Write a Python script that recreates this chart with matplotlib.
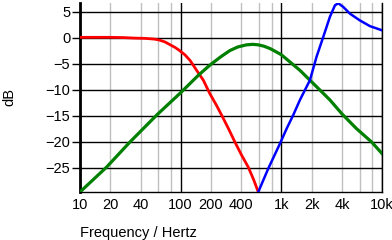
import matplotlib
matplotlib.use("Agg")
import matplotlib.pyplot as plt
from matplotlib.ticker import FixedLocator, NullFormatter

plt.rcParams['font.family'] = ['Liberation Sans', 'DejaVu Sans']

# lowpass (red)
freq_lp = [10, 20, 27, 35, 44, 55, 62, 70, 78, 88, 96, 110, 124, 144, 168,
           195, 225, 255, 300, 346, 400, 469, 530, 590]
db_lp = [0.05, 0.05, 0.0, -0.1, -0.15, -0.3, -0.5, -0.85, -1.35, -1.9, -2.4,
         -3.3, -4.4, -6.3, -8.2, -10.8, -12.9, -14.9, -17.6, -20.1, -22.5,
         -24.9, -27.3, -29.7]

# bandpass (green)
freq_bp = [10, 18.4, 31.3, 57.8, 100, 149, 195, 250, 308, 370, 450, 520,
           590, 670, 770, 880, 1000, 1220, 1530, 1923, 2420, 3040, 3970,
           5500, 7900, 10000]
db_bp = [-29.7, -24.9, -20.1, -14.9, -10.6, -7.3, -5.3, -3.7, -2.5, -1.8,
         -1.4, -1.3, -1.4, -1.65, -2.1, -2.7, -3.3, -4.7, -6.3, -8.2, -10.1,
         -12.0, -14.6, -17.4, -20.1, -22.3]

# highpass (blue)
freq_hp = [590, 741, 953, 1130, 1313, 1530, 1923, 2237, 2606, 3040, 3407,
           3676, 4120, 4800, 6030, 7590, 10000]
db_hp = [-29.7, -25.2, -20.7, -17.5, -14.9, -12.0, -8.2, -3.7, 0.1, 4.0,
         6.2, 6.6, 5.9, 4.6, 3.3, 2.2, 1.4]

x_major = [10, 100, 1000, 10000]
x_minor = [20, 40, 60, 80, 200, 400, 600, 800, 2000, 4000, 6000, 8000]
x_ticks = [10, 20, 40, 100, 200, 400, 1000, 2000, 4000, 10000]
x_labels = ['10', '20', '40', '100', '200', '400', '1k', '2k', '4k', '10k']
y_ticks = [5, 0, -5, -10, -15, -20, -25]

fig = plt.figure(figsize=(3.92, 2.40), dpi=100)
ax = fig.add_axes([80 / 392, 48 / 240, 302 / 392, 189 / 240])

ax.set_xscale('log')
ax.set_xlim(10, 10000)
ax.set_ylim(-29.7, 6.65)

for f in x_minor:
    ax.axvline(f, color='#c0c0c0', lw=1, zorder=1)
for f in x_major:
    ax.axvline(f, color='black', lw=1, zorder=1)
for d in y_ticks:
    ax.axhline(d, color='black', lw=1, zorder=1)

ax.plot(freq_lp, db_lp, color='#ff0000', lw=2.0, zorder=3)
ax.plot(freq_bp, db_bp, color='#008000', lw=2.3, zorder=3)
ax.plot(freq_hp, db_hp, color='#0000ff', lw=1.8, zorder=3)

ax.xaxis.set_major_locator(FixedLocator(x_ticks))
ax.xaxis.set_minor_locator(FixedLocator([]))
ax.xaxis.set_minor_formatter(NullFormatter())
ax.set_xticklabels(x_labels)
ax.set_yticks(y_ticks)
ax.tick_params(axis='x', length=0, pad=4, labelsize=10.5)
ax.tick_params(axis='y', length=6, width=1, pad=1, labelsize=10.5)

ax.spines['top'].set_visible(False)
ax.spines['left'].set_linewidth(2)
ax.spines['bottom'].set_linewidth(1)
ax.spines['right'].set_linewidth(1)

fig.text(80 / 392, 1 - 233 / 240, 'Frequency / Hertz', ha='left', va='center',
         fontsize=10.5)
fig.text(9 / 392, 1 - 97 / 240, 'dB', rotation=90, ha='center', va='center',
         fontsize=10.5)

fig.savefig('out.png', dpi=100)
